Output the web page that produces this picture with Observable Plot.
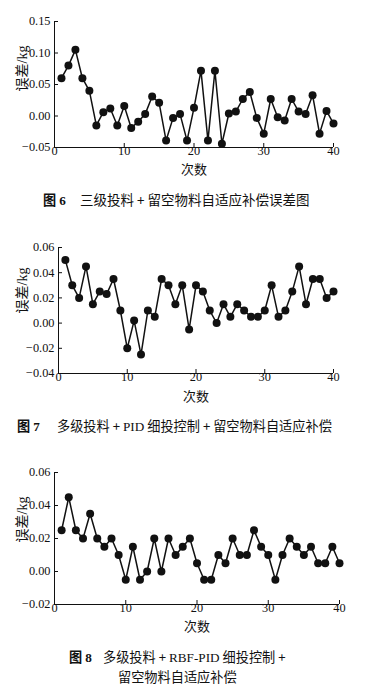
<!DOCTYPE html>
<html><head><meta charset="utf-8">
<script src="https://cdn.jsdelivr.net/npm/d3@7"></script>
<script src="https://cdn.jsdelivr.net/npm/@observablehq/plot@0.6"></script>
<style>
html,body{margin:0;padding:0;background:#fff;width:382px;height:698px;overflow:hidden;}
.pane{position:absolute;left:0;}
.cap{position:absolute;font-family:"Noto Sans CJK SC",sans-serif;font-size:13.2px;line-height:1;color:#111;white-space:nowrap;}
.num{font-family:"Liberation Serif",serif;}
.fig{font-weight:700;}
</style></head><body>
<div id="c1" class="pane" style="top:0px"></div>
<div id="c2" class="pane" style="top:230px"></div>
<div id="c3" class="pane" style="top:455px"></div>
<div class="cap fig" style="left:43px;top:193px">图 <span class="num">6</span></div>
<div class="cap" style="left:80px;top:193px;font-size:13.5px">三级投料 + 留空物料自适应补偿误差图</div>
<div class="cap fig" style="left:17px;top:419px">图 <span class="num">7</span></div>
<div class="cap" style="left:57px;top:419px">多级投料 + <span class="num">PID</span> 细投控制 + 留空物料自适应补偿</div>
<div class="cap fig" style="left:69px;top:650px">图 <span class="num">8</span></div>
<div class="cap" style="left:103px;top:650px">多级投料 + <span class="num">RBF-PID</span> 细投控制 +</div>
<div class="cap" style="left:118px;top:670px">留空物料自适应补偿</div>
<script>
const runs = d3.range(1, 41);
const err6 = [0.060,0.080,0.105,0.060,0.040,-0.015,0.006,0.012,-0.015,0.016,
  -0.019,-0.009,0.003,0.031,0.021,-0.039,-0.003,0.003,-0.039,0.013,
  0.072,-0.039,0.072,-0.044,0.004,0.007,0.027,0.038,-0.003,-0.028,
  0.027,-0.002,-0.007,0.027,0.007,0.003,0.033,-0.028,0.008,-0.012];
const err7 = [0.050,0.030,0.020,0.045,0.015,0.025,0.023,0.035,0.010,-0.020,
  0.002,-0.025,0.010,0.005,0.035,0.030,0.015,0.030,-0.005,0.030,
  0.025,0.010,0.000,0.015,0.005,0.015,0.010,0.005,0.005,0.010,
  0.030,0.005,0.010,0.025,0.045,0.015,0.035,0.035,0.020,0.025];
const err8 = [0.025,0.045,0.025,0.020,0.035,0.020,0.015,0.020,0.010,-0.005,
  0.015,-0.005,0.000,0.020,0.000,0.020,0.010,0.015,0.020,0.005,
  -0.005,-0.005,0.010,0.005,0.020,0.010,0.010,0.025,0.015,0.010,
  -0.005,0.010,0.020,0.015,0.010,0.015,0.005,0.005,0.015,0.005];
const xTicks = [0, 10, 20, 30, 40];
const yTicks6 = [-0.05, 0, 0.05, 0.10, 0.15];
const yTicks7 = [-0.04, -0.02, 0, 0.02, 0.04, 0.06];
const yTicks8 = [-0.02, 0, 0.02, 0.04, 0.06];
const xLabel = "次数";
const yLabel = "误差/kg";

function chart(values, yTicks, m, lab) {
  const data = runs.map((r, i) => ({r, v: values[i]}));
  const ymin = yTicks[0], ymax = yTicks[yTicks.length - 1];
  return Plot.plot({
    width: 382, height: 185,
    marginTop: m.top, marginBottom: m.bottom, marginLeft: m.left, marginRight: m.right,
    style: {fontFamily: "'Liberation Serif', 'Times New Roman', serif", fontSize: "12.3px", color: "#111", background: "white"},
    x: {domain: [0, 40]},
    y: {domain: [ymin, ymax]},
    marks: [
      Plot.axisX({ticks: xTicks, tickSize: -4, tickPadding: 3, label: null, tickFormat: d3.format("d")}),
      Plot.axisY({ticks: yTicks, tickSize: -4, tickPadding: 8, label: null, tickFormat: d3.format(".2f")}),
      Plot.ruleX([0], {stroke: "#111", strokeWidth: 1}),
      Plot.ruleY([ymin], {stroke: "#111", strokeWidth: 1}),
      Plot.line(data, {x: "r", y: "v", stroke: "#111", strokeWidth: 1.5}),
      Plot.dot(data, {x: "r", y: "v", r: 4, fill: "#111", stroke: "none"}),
      Plot.text([xLabel], {frameAnchor: "bottom", dy: lab.xdy, fontFamily: "'Noto Sans CJK SC', sans-serif", fontSize: 13}),
      Plot.text([yLabel], {frameAnchor: "left", dx: lab.ydx, dy: lab.ydy, rotate: -90, fontFamily: "'Liberation Serif', 'Noto Sans CJK SC', serif", fontSize: 14})
    ]
  });
}
document.getElementById("c1").appendChild(chart(err6, yTicks6, {top: 21, bottom: 38, left: 54, right: 49}, {xdy: 26, ydx: -32, ydy: 7}));
document.getElementById("c2").appendChild(chart(err7, yTicks7, {top: 17, bottom: 42, left: 58, right: 49}, {xdy: 27, ydx: -36, ydy: 3}));
document.getElementById("c3").appendChild(chart(err8, yTicks8, {top: 17, bottom: 36, left: 54, right: 43}, {xdy: 26, ydx: -32, ydy: 4}));
</script>
</body></html>
